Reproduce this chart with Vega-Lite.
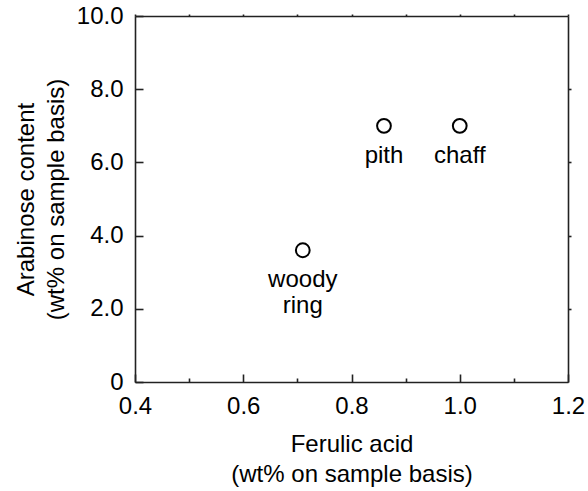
{
  "$schema": "https://vega.github.io/schema/vega-lite/v6.json",
  "autosize": "none",
  "padding": {"left": 135, "top": 16, "right": 20, "bottom": 109},
  "width": 433,
  "height": 366,
  "background": "white",
  "data": {
    "values": [
      {"ferulic": 0.71, "arabinose": 3.6, "label": "woody\nring"},
      {"ferulic": 0.86, "arabinose": 7.0, "label": "pith"},
      {"ferulic": 1.0, "arabinose": 7.0, "label": "chaff"}
    ]
  },
  "resolve": {"axis": {"x": "independent", "y": "independent"}},
  "layer": [
    {
      "mark": {"type": "point", "shape": "circle", "filled": false, "size": 190, "stroke": "black", "strokeWidth": 2, "opacity": 1},
      "encoding": {
        "x": {
          "field": "ferulic", "type": "quantitative",
          "scale": {"domain": [0.4, 1.2], "nice": false, "zero": false},
          "axis": {
            "orient": "bottom",
            "values": [0.4, 0.6, 0.8, 1.0, 1.2],
            "labelExpr": "format(datum.value, '.1f')",
            "tickSize": -8,
            "labelPadding": 20,
            "title": ["Ferulic acid", "(wt% on sample basis)"],
            "titlePadding": 14
          }
        },
        "y": {
          "field": "arabinose", "type": "quantitative",
          "scale": {"domain": [0, 10], "nice": false},
          "axis": {
            "orient": "left",
            "values": [0, 2, 4, 6, 8, 10],
            "labelExpr": "datum.value == 0 ? '0' : format(datum.value, '.1f')",
            "tickSize": -8,
            "labelPadding": 20,
            "title": ["Arabinose content", "(wt% on sample basis)"],
            "titlePadding": 8
          }
        }
      }
    },
    {
      "mark": {"type": "text", "align": "center", "baseline": "alphabetic", "dy": 37, "fontSize": 24, "font": "Liberation Sans", "lineBreak": "\n", "lineHeight": 26, "color": "black"},
      "encoding": {
        "text": {"field": "label"},
        "x": {
          "field": "ferulic", "type": "quantitative",
          "axis": {
            "orient": "bottom",
            "values": [0.5, 0.7, 0.9, 1.1],
            "labels": false, "domain": false, "tickSize": -4, "title": null
          }
        },
        "y": {
          "field": "arabinose", "type": "quantitative",
          "axis": {
            "orient": "right",
            "values": [2, 4, 6, 8],
            "labels": false, "domain": true, "tickSize": 3, "title": null
          }
        }
      }
    },
    {
      "mark": {"type": "point", "opacity": 0},
      "encoding": {
        "x": {
          "field": "ferulic", "type": "quantitative",
          "axis": {
            "orient": "top",
            "values": [0.4, 0.5, 0.6, 0.7, 0.8, 0.9, 1.0, 1.1, 1.2],
            "labels": false, "domain": true, "tickSize": 2, "title": null
          }
        },
        "y": {
          "field": "arabinose", "type": "quantitative",
          "axis": null
        }
      }
    }
  ],
  "config": {
    "view": {"stroke": null},
    "font": "Liberation Sans",
    "axis": {
      "grid": false,
      "domainColor": "#222222",
      "domainWidth": 1.6,
      "tickColor": "#222222",
      "tickWidth": 1.6,
      "labelFont": "Liberation Sans",
      "labelFontSize": 24,
      "labelColor": "black",
      "titleFont": "Liberation Sans",
      "titleFontSize": 24,
      "titleFontWeight": "normal",
      "titleColor": "black",
      "titleLineHeight": 30,
      "labelFlush": false,
      "labelOverlap": false
    }
  }
}
